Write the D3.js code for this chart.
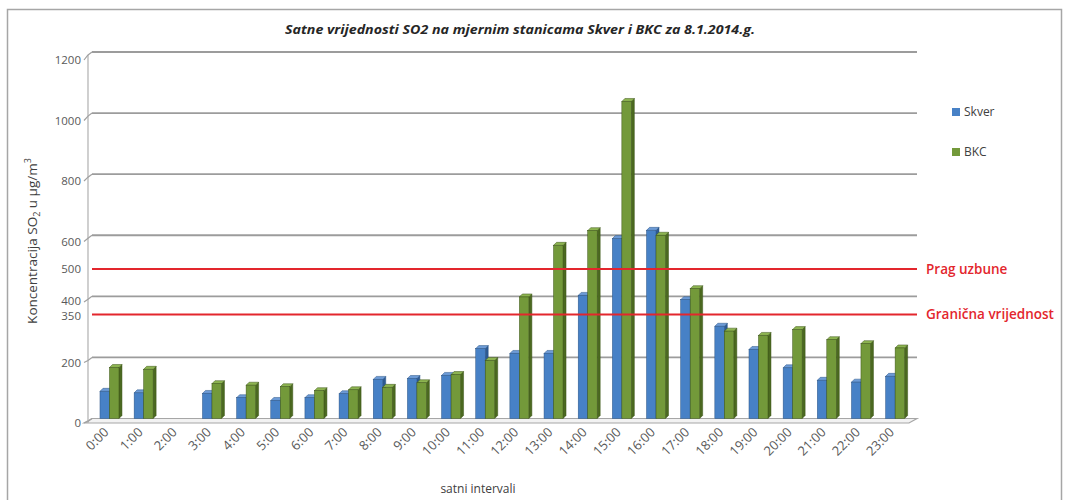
<!DOCTYPE html>
<html>
<head>
<meta charset="utf-8">
<script src="https://cdn.jsdelivr.net/npm/d3@7"></script>
<style>
  html, body { margin: 0; padding: 0; background: #ffffff; }
  svg { display: block; font-family: "Open Sans", Lato, sans-serif; }
</style>
</head>
<body>
<svg id="chart" width="1065" height="500"></svg>
<script>
// Hourly SO2 concentrations (µg/m³) at two stations, 8.1.2014.
const hours = ["0:00","1:00","2:00","3:00","4:00","5:00","6:00","7:00","8:00","9:00","10:00","11:00",
               "12:00","13:00","14:00","15:00","16:00","17:00","18:00","19:00","20:00","21:00","22:00","23:00"];
const skver = [89, 84, null, 82, 68, 59, 68, 81, 128, 131, 141, 229,
               213, 213, 403, 589, 616, 389, 302, 226, 166, 125, 119, 138];
const bkc   = [167, 161, null, 114, 109, 104, 91, 94, 102, 117, 144, 190,
               398, 567, 615, 1038, 600, 425, 286, 272, 291, 258, 245, 231];
const seriesNames = ["Skver", "BKC"];
const gridTicks = [0, 200, 400, 600, 800, 1000, 1200];
const thresholds = [
  { value: 500, label: "Prag uzbune" },
  { value: 350, label: "Granična vrijednost" }
];

const svg = d3.select("#chart");

// Outer frame
svg.append("rect")
  .attr("x", 7.5).attr("y", 9.5).attr("width", 1054).attr("height", 500)
  .attr("fill", "none").attr("stroke", "#a6a6a6").attr("stroke-width", 1.5);

// Title
svg.append("text")
  .attr("x", 520).attr("y", 34)
  .attr("text-anchor", "middle")
  .attr("font-size", 12.5).attr("font-weight", "bold").attr("font-style", "italic")
  .attr("textLength", 470).attr("lengthAdjust", "spacingAndGlyphs")
  .attr("fill", "#262626")
  .text("Satne vrijednosti SO2 na mjernim stanicama Skver i BKC za 8.1.2014.g.");

// Scales: back wall (gridlines, bars), front edge (axis labels), threshold plane
const yBack  = d3.scaleLinear().domain([0, 1200]).range([418.5, 52]);
const yFront = d3.scaleLinear().domain([0, 1200]).range([423, 60]);
const yMid   = d3.scaleLinear().domain([0, 1200]).range([421, 56]);
const wallLeft = 92, wallRight = 917;
const x0 = d3.scaleBand().domain(hours).range([92.4, 912.2])
  .paddingInner(0.444).paddingOuter(0.222);
const x1 = d3.scaleBand().domain(seriesNames).range([0, x0.bandwidth()]);

// Floor
const floorBack = yBack(0), floorFront = yFront(0);
svg.append("path")
  .attr("d", `M${wallLeft},${floorBack} L${wallRight},${floorBack} L${wallRight - 8},${floorFront} L${wallLeft - 8},${floorFront} Z`)
  .attr("fill", "#f2f2f2").attr("stroke", "#a6a6a6").attr("stroke-width", 1.2);

// Gridlines on the back wall
svg.append("g").selectAll("line")
  .data(gridTicks.filter(d => d > 0))
  .join("line")
  .attr("x1", wallLeft).attr("x2", wallRight)
  .attr("y1", d => yBack(d)).attr("y2", d => yBack(d))
  .attr("stroke", "#9c9c9c").attr("stroke-width", 1.8);

// Side wall edge and ticks
svg.append("line")
  .attr("x1", 88).attr("x2", 88)
  .attr("y1", yBack(1200) + 3).attr("y2", yFront(0))
  .attr("stroke", "#b0b0b0").attr("stroke-width", 1.2);
svg.append("g").selectAll("path")
  .data(gridTicks)
  .join("path")
  .attr("d", d => `M${wallLeft},${yBack(d)} L${88},${yBack(d) + 3} L${84},${yFront(d)}`)
  .attr("fill", "none").attr("stroke", "#a0a0a0").attr("stroke-width", 1.2);

// Y tick labels (front edge for the grid values, threshold values beside their lines)
const yAxisG = svg.append("g");
yAxisG.selectAll("text.tick")
  .data(gridTicks)
  .join("text")
  .attr("class", "tick")
  .attr("x", 81).attr("y", d => yFront(d) - (d === 400 ? 1.5 : 0)).attr("dy", "0.35em")
  .attr("text-anchor", "end").attr("font-size", 11.5).attr("fill", "#595959")
  .text(d => d);
yAxisG.selectAll("text.thr")
  .data(thresholds)
  .join("text")
  .attr("class", "thr")
  .attr("x", 81).attr("y", d => yMid(d.value) + (d.value === 350 ? 1.5 : 0)).attr("dy", "0.35em")
  .attr("text-anchor", "end").attr("font-size", 11.5).attr("fill", "#595959")
  .text(d => d.value);

// Y axis title with sub/superscript
const yTitle = svg.append("text")
  .attr("transform", "translate(37,241) rotate(-90)")
  .attr("text-anchor", "middle").attr("font-size", 13.5).attr("fill", "#404040");
yTitle.append("tspan").text("Koncentracija SO");
yTitle.append("tspan").attr("font-size", 9).attr("dy", 3).text("2");
yTitle.append("tspan").attr("dy", -3).text(" u µg/m");
yTitle.append("tspan").attr("font-size", 9).attr("dy", -6).text("3");

// 3D columns
const colors = {
  Skver: { front: "#4781c6", side: "#2d5a93", top: "#6d9bd6", edge: "#2b5486" },
  BKC:   { front: "#73993a", side: "#4b6920", top: "#8db451", edge: "#3d5518" }
};
const dX = 3, dY = -3;
const barData = [];
hours.forEach((h, i) => {
  seriesNames.forEach((s, j) => {
    const v = (j === 0 ? skver : bkc)[i];
    if (v != null) barData.push({ hour: h, series: s, value: v });
  });
});
const bars = svg.append("g").selectAll("g.bar")
  .data(barData)
  .join("g").attr("class", "bar");
bars.each(function (d) {
  const g = d3.select(this);
  const c = colors[d.series];
  const xl = x0(d.hour) + x1(d.series);
  const w = x1.bandwidth();
  const yt = yBack(d.value), yb = yBack(0);
  // side face
  g.append("path")
    .attr("d", `M${xl + w},${yt} L${xl + w + dX},${yt + dY} L${xl + w + dX},${yb + dY} L${xl + w},${yb} Z`)
    .attr("fill", c.side).attr("stroke", c.edge).attr("stroke-width", 0.5);
  // top face
  g.append("path")
    .attr("d", `M${xl},${yt} L${xl + dX},${yt + dY} L${xl + w + dX},${yt + dY} L${xl + w},${yt} Z`)
    .attr("fill", c.top).attr("stroke", c.edge).attr("stroke-width", 0.5);
  // front face
  g.append("rect")
    .attr("x", xl).attr("y", yt).attr("width", w).attr("height", yb - yt)
    .attr("fill", c.front).attr("stroke", c.edge).attr("stroke-width", 0.5);
});

// Threshold lines
const thrG = svg.append("g");
thrG.selectAll("line")
  .data(thresholds)
  .join("line")
  .attr("x1", wallLeft).attr("x2", wallRight)
  .attr("y1", d => yMid(d.value)).attr("y2", d => yMid(d.value))
  .attr("stroke", "#e3262d").attr("stroke-width", 2);
thrG.selectAll("text")
  .data(thresholds)
  .join("text")
  .attr("x", 926).attr("y", d => yMid(d.value)).attr("dy", "0.35em")
  .attr("font-size", 13.5).attr("font-weight", 600).attr("fill", "#e3262d")
  .text(d => d.label);

// X tick labels
svg.append("g").selectAll("text")
  .data(hours)
  .join("text")
  .attr("transform", d => `translate(${x0(d) + x0.bandwidth() / 2},${433}) rotate(-45)`)
  .attr("text-anchor", "end").attr("font-size", 13).attr("fill", "#595959")
  .text(d => d);

// X axis title
svg.append("text")
  .attr("x", 478).attr("y", 493)
  .attr("text-anchor", "middle").attr("font-size", 12).attr("fill", "#404040")
  .text("satni intervali");

// Legend
const legend = svg.append("g").selectAll("g")
  .data(seriesNames)
  .join("g")
  .attr("transform", (d, i) => `translate(952,${112 + i * 40})`);
legend.append("rect")
  .attr("x", 0).attr("y", -4).attr("width", 8).attr("height", 8)
  .attr("fill", d => colors[d].front);
legend.append("text")
  .attr("x", 12).attr("y", 0).attr("dy", "0.35em")
  .attr("font-size", 12).attr("fill", "#404040")
  .text(d => d);
</script>
</body>
</html>
